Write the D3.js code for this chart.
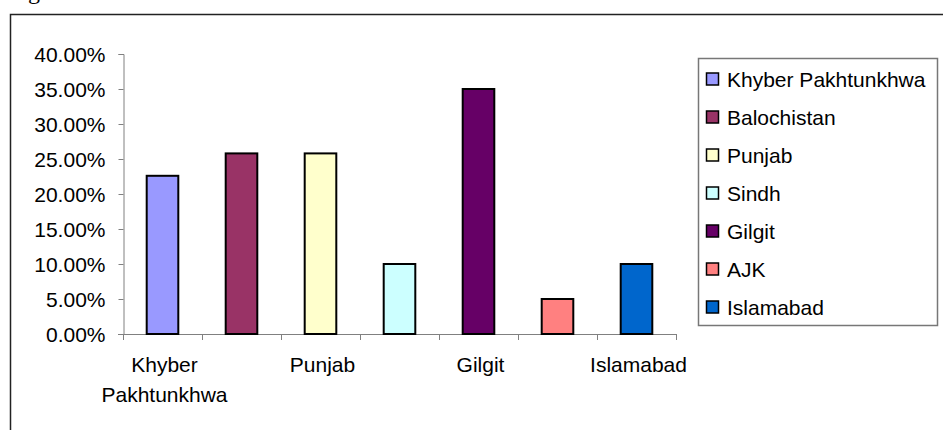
<!DOCTYPE html>
<html>
<head>
<meta charset="utf-8">
<script src="https://cdn.jsdelivr.net/npm/d3@7"></script>
<style>
  html, body { margin: 0; padding: 0; background: #fff; }
  svg { display: block; }
  text { font-family: "Liberation Sans", Arial, sans-serif; fill: #000; }
</style>
</head>
<body>
<svg id="chart" width="943" height="430"></svg>
<script>
// ---- data ----
const categories = ["Khyber Pakhtunkhwa", "Balochistan", "Punjab", "Sindh", "Gilgit", "AJK", "Islamabad"];
const values = [0.226, 0.258, 0.258, 0.10, 0.35, 0.05, 0.10];
const colors = ["#9999FF", "#993366", "#FFFFCC", "#CCFFFF", "#660066", "#FF8080", "#0066CC"];
const yTicks = [0, 0.05, 0.10, 0.15, 0.20, 0.25, 0.30, 0.35, 0.40];
const xLabelShown = [true, false, true, false, true, false, true];

const svg = d3.select("#chart");

// cut-off caption above frame
svg.append("text").attr("x", 28).attr("y", -1)
  .style("font-family", "'Liberation Serif', 'Times New Roman', serif")
  .style("font-size", "24px").text("g");

// outer frame
svg.append("rect").attr("x", 10.5).attr("y", 14.5).attr("width", 960).attr("height", 460)
  .attr("fill", "none").attr("stroke", "#222").attr("stroke-width", 1.5);

const x = d3.scaleBand().domain(categories).range([123, 676]).padding(0);
const y = d3.scaleLinear().domain([0, 0.4]).range([334, 54]);

// y axis
const yAxis = d3.axisLeft(y).tickValues(yTicks).tickFormat(d3.format(".2%")).tickSize(5).tickPadding(13);
const gy = svg.append("g").attr("transform", "translate(123.5,0)").call(yAxis);
gy.select(".domain").attr("stroke", "#808080");
gy.selectAll(".tick line").attr("stroke", "#808080");
gy.selectAll(".tick text").style("font-size", "21px").attr("fill", "#000").attr("dy", "0.36em");

// x axis line + ticks at category boundaries
const gx = svg.append("g");
gx.append("line").attr("x1", 118).attr("x2", x.range()[1]).attr("y1", 334.5).attr("y2", 334.5)
  .attr("stroke", "#808080");
const boundaries = categories.map(c => x(c)).concat([x.range()[1]]);
gx.selectAll("line.tk").data(boundaries).enter().append("line").attr("class", "tk")
  .attr("x1", d => Math.round(d) + 0.5).attr("x2", d => Math.round(d) + 0.5)
  .attr("y1", 334).attr("y2", 340).attr("stroke", "#808080");

// bars
const bw = x.bandwidth() / 2.5;
svg.append("g").selectAll("rect").data(categories).enter().append("rect")
  .attr("x", d => x(d) + (x.bandwidth() - bw) / 2)
  .attr("y", (d, i) => y(values[i]))
  .attr("width", bw)
  .attr("height", (d, i) => y(0) - y(values[i]))
  .attr("fill", (d, i) => colors[i])
  .attr("stroke", "#000").attr("stroke-width", 2);

// x labels
const xl = svg.append("g");
categories.forEach((c, i) => {
  if (!xLabelShown[i]) return;
  const cx = x(c) + x.bandwidth() / 2;
  const words = (c === "Khyber Pakhtunkhwa") ? c.split(" ") : [c];
  const t = xl.append("text").attr("text-anchor", "middle").style("font-size", "21px");
  words.forEach((w, k) => {
    t.append("tspan").attr("x", cx + 2).attr("y", 372 + k * 30).text(w);
  });
});

// legend
const lg = svg.append("g");
lg.append("rect").attr("x", 698.5).attr("y", 58.5).attr("width", 239).attr("height", 267)
  .attr("fill", "#fff").attr("stroke", "#777").attr("stroke-width", 1.5);
const rows = lg.selectAll("g.row").data(categories).enter().append("g").attr("class", "row")
  .attr("transform", (d, i) => `translate(0,${79 + i * 38})`);
rows.append("rect").attr("x", 706.5).attr("y", -6).attr("width", 12).attr("height", 12)
  .attr("fill", (d, i) => colors[i]).attr("stroke", "#000").attr("stroke-width", 1.5);
rows.append("text").attr("x", 727).attr("y", 7.5).style("font-size", "21px").text(d => d);
</script>
</body>
</html>
